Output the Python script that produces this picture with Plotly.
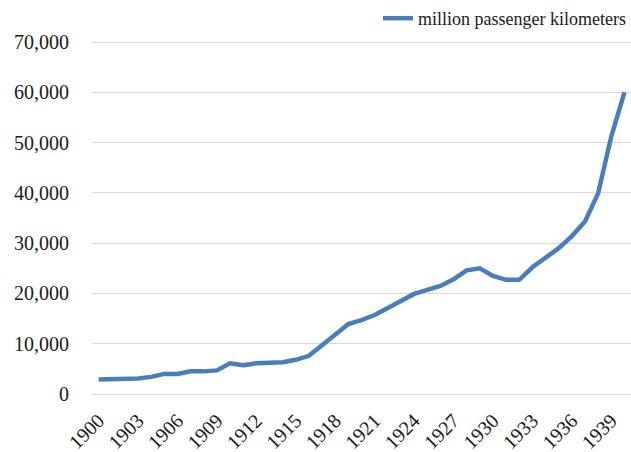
import plotly.graph_objects as go

years = list(range(1900, 1941))
passenger_km = [2900, 2900, 2900, 3100, 3400, 4000, 4000, 4500, 4500, 4700,
                6100, 5700, 6100, 6300, 6300, 6800, 7600, 9700, 11700, 13900,
                14700, 15700, 17100, 18600, 19900, 20700, 21500, 22800, 24600, 25000,
                23500, 22700, 22700, 25200, 27100, 29000, 31400, 34300, 39900, 51200,
                60000]
series_name = "million passenger kilometers"
x_ticks = list(range(1900, 1940, 3))
y_ticks = list(range(0, 70001, 10000))

font_family = "Liberation Serif, Times New Roman, serif"

fig = go.Figure()
fig.add_trace(go.Scatter(
    x=years, y=passenger_km, mode="lines", name=series_name,
    line=dict(color="#4a7ebb", width=4.5),
))

fig.update_layout(
    width=631, height=452,
    margin=dict(l=92, r=0, t=40, b=58),
    plot_bgcolor="white", paper_bgcolor="white",
    font=dict(family=font_family, size=20, color="#1a1a1a"),
    showlegend=True,
    legend=dict(x=1.008, xanchor="right", y=1, yref="container", yanchor="top",
                font=dict(size=18, color="#1a1a1a"), bgcolor="rgba(0,0,0,0)",
                itemwidth=30),
    xaxis=dict(range=[1899.5, 1940.5], tickmode="array", tickvals=x_ticks,
               ticktext=[str(t) for t in x_ticks], tickangle=-45,
               showgrid=False, zeroline=False, showline=False, ticks="",
               ticklabelstandoff=10, automargin=False),
    yaxis=dict(range=[0, 70400], tickmode="array", tickvals=y_ticks,
               ticktext=[f"{v:,}" for v in y_ticks],
               showgrid=True, gridcolor="#d9d9d9", gridwidth=1.3,
               zeroline=True, zerolinecolor="#d9d9d9", zerolinewidth=1.3,
               showline=False, ticks="", ticklabelstandoff=22, automargin=False),
)

fig.write_html("out.html")
